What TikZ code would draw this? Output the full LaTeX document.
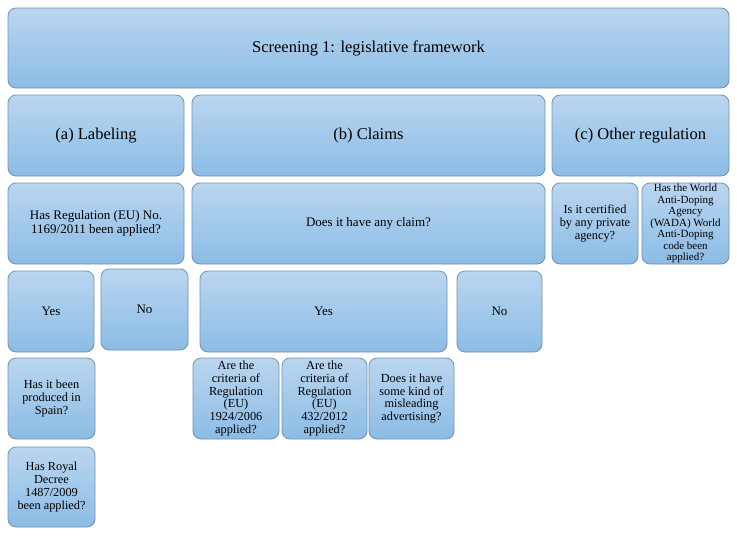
\documentclass[tikz,border=0pt]{standalone}
\usepackage{fontspec}
\setmainfont{Liberation Serif}
\definecolor{boxtop}{HTML}{BAD6F0}
\definecolor{boxbot}{HTML}{8BBCE5}
\definecolor{boxline}{HTML}{7391B0}
\tikzset{box/.style={draw=boxline, line width=0.8pt, rounded corners=8pt,
    top color=boxtop, bottom color=boxbot, align=center, inner sep=1pt}}

\begin{document}
\begin{tikzpicture}[x=1pt, y=-1pt,
    head/.style={box, font=\fontsize{16.5}{18}\selectfont},
    ask/.style={box, font=\fontsize{13}{13.5}\selectfont},
    small/.style={box, font=\fontsize{12.3}{12.8}\selectfont},
    tiny/.style={box, font=\fontsize{11}{11.5}\selectfont}]
    \useasboundingbox (0,0) rectangle (737,536);
    % top level
    \node[head, minimum width=721pt, minimum height=80pt] (scr) at (368.5,48) {Screening 1: legislative framework};
    % three branches
    \node[head, minimum width=176pt, minimum height=81pt] (lab) at (96,135.5) {(a) Labeling};
    \node[head, minimum width=353pt, minimum height=81pt] (clm) at (368.5,135.5) {(b) Claims};
    \node[head, minimum width=177pt, minimum height=81pt] (oth) at (640.5,135.5) {(c) Other regulation};
    % questions
    \node[ask, minimum width=176pt, minimum height=81pt] (labq) at (96,223.5) {Has Regulation (EU) No.\\1169/2011 been applied?};
    \node[ask, minimum width=353pt, minimum height=81pt] (clmq) at (368.5,223.5) {Does it have any claim?};
    \node[small, minimum width=86pt, minimum height=81pt] (othq1) at (595,223.5) {Is it certified\\by any private\\agency?};
    \node[tiny, minimum width=87pt, minimum height=81pt] (othq2) at (685.5,223.5) {Has the World\\Anti-Doping\\Agency\\(WADA) World\\Anti-Doping\\code been\\applied?};
    % answers
    \node[ask, minimum width=86pt, minimum height=81pt] (labyes) at (51,311.5) {Yes};
    \node[ask, minimum width=87pt, minimum height=81pt] (labno) at (144.5,309.5) {No};
    \node[ask, minimum width=247pt, minimum height=81pt] (clmyes) at (323.5,311.5) {Yes};
    \node[ask, minimum width=85pt, minimum height=81pt] (clmno) at (499.5,311.5) {No};
    % follow-up questions
    \node[small, minimum width=87pt, minimum height=81pt] (spain) at (51.5,398.5) {Has it been\\produced in\\Spain?};
    \node[small, minimum width=87pt, minimum height=80pt] (royal) at (51.5,487) {Has Royal\\Decree\\1487/2009\\been applied?};
    \node[small, minimum width=86pt, minimum height=81pt] (reg1) at (236,398.5) {Are the\\criteria of\\Regulation\\(EU)\\1924/2006\\applied?};
    \node[small, minimum width=85pt, minimum height=81pt] (reg2) at (324.5,398.5) {Are the\\criteria of\\Regulation\\(EU)\\432/2012\\applied?};
    \node[small, minimum width=85pt, minimum height=81pt] (mislead) at (411.5,398.5) {Does it have\\some kind of\\misleading\\advertising?};
\end{tikzpicture}
\end{document}
